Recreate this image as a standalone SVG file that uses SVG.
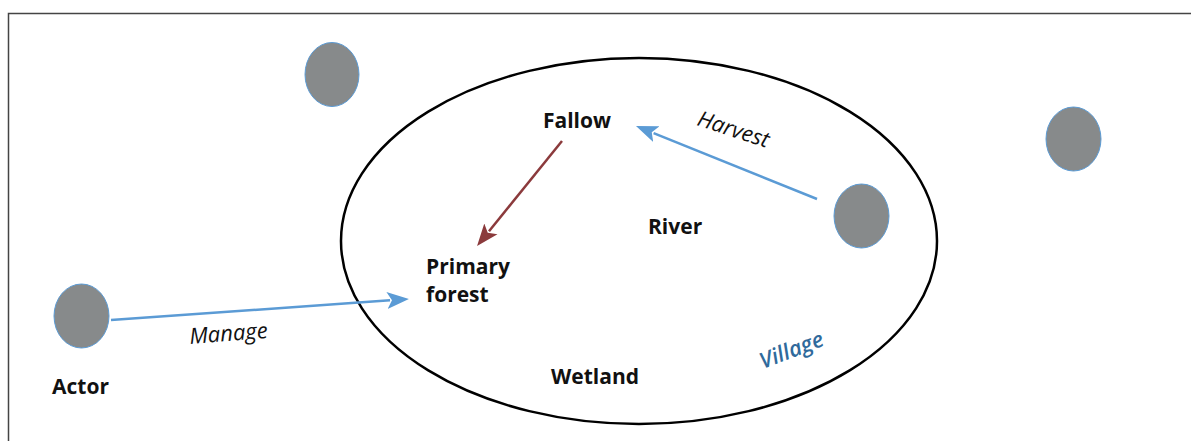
<svg xmlns="http://www.w3.org/2000/svg" width="1191" height="441" viewBox="0 0 1191 441">
<style>
.lbl{font-family:"Open Sans","Liberation Sans",sans-serif;font-weight:700;font-size:21px;fill:#111}
.it{font-family:"Open Sans","Liberation Sans",sans-serif;font-style:italic;font-size:22px;fill:#111}
.vil{font-family:"Open Sans","Liberation Sans",sans-serif;font-style:italic;font-weight:600;font-size:22px;fill:#2f6a9c}
.actor{fill:#878a8b;stroke:#5b9bd5;stroke-width:1}
.blue{stroke:#5b9bd5;stroke-width:2.5;fill:none}
.red{stroke:#8b3a3c;stroke-width:2.5;fill:none}
</style>
<defs>
<marker id="hb" markerUnits="userSpaceOnUse" viewBox="0 -10 24 20" markerWidth="24" markerHeight="20" refX="3" refY="0" orient="auto">
<path d="M0,-8.5 L22,0 L0,8.5 L5,0 z" fill="#5b9bd5"/>
</marker>
<marker id="hr" markerUnits="userSpaceOnUse" viewBox="0 -10 24 20" markerWidth="24" markerHeight="20" refX="3" refY="0" orient="auto">
<path d="M0,-8.5 L22,0 L0,8.5 L5,0 z" fill="#8b3a3c"/>
</marker>
</defs>
<rect x="8.5" y="13.5" width="1200" height="450" fill="#fff" stroke="#444" stroke-width="1.5"/>
<g id="village-area">
<ellipse cx="639" cy="241" rx="298" ry="183" fill="none" stroke="#000" stroke-width="2.5"/>
<text class="vil" x="763" y="369" transform="rotate(-21 763 369)">Village</text>
</g>
<g id="actor-topleft"><ellipse class="actor" cx="332" cy="74.5" rx="27" ry="32"/></g>
<g id="actor-right"><ellipse class="actor" cx="1073.5" cy="139" rx="27.5" ry="32"/></g>
<g id="actor-village"><ellipse class="actor" cx="861.5" cy="216" rx="27.5" ry="32"/></g>
<g id="actor"><ellipse class="actor" cx="81.5" cy="316" rx="27.5" ry="32"/><text class="lbl" x="52" y="394">Actor</text></g>
<g id="fallow"><text class="lbl" x="543" y="128">Fallow</text></g>
<g id="river"><text class="lbl" x="648" y="234">River</text></g>
<g id="primary-forest"><text class="lbl" x="426" y="274">Primary</text><text class="lbl" x="426" y="302">forest</text></g>
<g id="wetland"><text class="lbl" x="551" y="384">Wetland</text></g>
<g id="connectors">
<line class="blue" x1="111" y1="320" x2="390" y2="300.3" marker-end="url(#hb)"/>
<text class="it" x="190" y="344" transform="rotate(-4.5 190 344)">Manage</text>
<line class="blue" x1="817" y1="199" x2="653.6" y2="133.1" marker-end="url(#hb)"/>
<text class="it" x="696" y="125" transform="rotate(18 696 125)">Harvest</text>
<line class="red" x1="562" y1="141" x2="489" y2="231.2" marker-end="url(#hr)"/>
</g>
</svg>
